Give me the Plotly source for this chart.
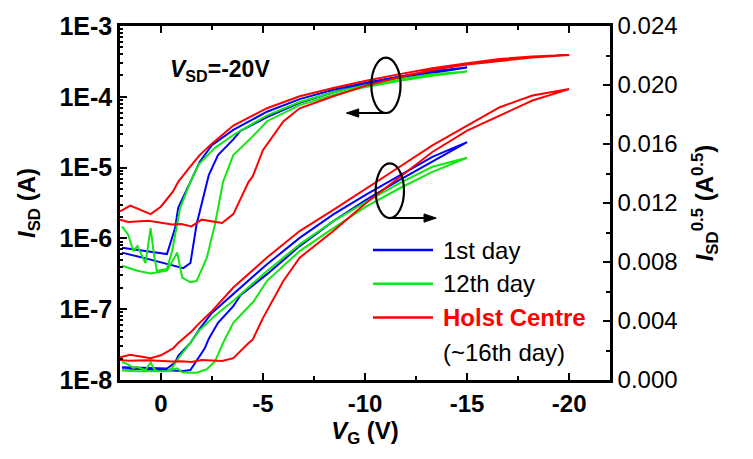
import numpy as np
import plotly.graph_objects as go
from plotly.subplots import make_subplots

# ---------------- data (V_G in volts, I_SD in amperes) ----------------
# each series is one sweep loop: forward branch then reverse branch
blue_v = [1.9, -0.3, -0.7, -0.85, -1.45, -1.9, -2.5, -3.55, -5.2, -6.8, -8.45, -10.05, -11.7, -13.3, -15.0,
          -13.3, -11.7, -10.05, -8.45, -6.8, -5.2, -3.9, -3.55, -2.8, -2.35, -2.15, -1.75, -1.45, -1.1, 0.6, 1.9]
blue_i = [7.4e-7, 6.0e-7, 1.4e-6, 2.7e-6, 6.3e-6, 1.2e-5, 2.07e-5, 3.4e-5, 6.16e-5, 9.28e-5, 1.26e-4, 1.58e-4, 1.93e-4, 2.29e-4, 2.60e-4,
          2.19e-4, 1.84e-4, 1.49e-4, 1.16e-4, 8.24e-5, 5.15e-5, 3.3e-5, 2.5e-5, 1.5e-5, 7.85e-6, 4.6e-6, 1.57e-6, 4.5e-7, 3.8e-7, 5.1e-7, 6.3e-7]

green_v = [1.9, 1.6, 1.35, 1.15, 1.0, 0.75, 0.5, 0.35, 0.2, -0.3, -0.55, -0.95, -1.45, -1.85, -2.65, -3.55, -5.2, -6.8, -8.45, -10.05, -11.7, -13.3, -15.0,
           -13.3, -11.7, -10.05, -8.45, -6.8, -5.2, -4.55, -3.55, -3.05, -2.65, -2.25, -1.75, -1.45, -1.05, -0.8, -0.3, 0.5, 1.15, 1.9]
green_i = [1.48e-6, 1.13e-6, 6.6e-7, 7.8e-7, 6.3e-7, 4.5e-7, 1.4e-6, 6.3e-7, 3.5e-7, 3.7e-7, 6.6e-7, 2.7e-6, 6.3e-6, 1.1e-5, 1.9e-5, 2.89e-5, 5.47e-5, 8.45e-5, 1.16e-4, 1.46e-4, 1.78e-4, 2.09e-4, 2.27e-4,
           1.99e-4, 1.69e-4, 1.38e-4, 1.06e-4, 7.64e-5, 4.52e-5, 2.85e-5, 1.5e-5, 6.3e-6, 1.57e-6, 5.3e-7, 2.5e-7, 2.4e-7, 2.8e-7, 6.3e-7, 3.5e-7, 3.2e-7, 3.5e-7, 4.1e-7]

red_v = [2.0, 1.5, 0.5, 0.0, -0.6, -0.85, -1.5, -1.9, -2.5, -3.55, -5.2, -6.8, -8.45, -10.05, -11.7, -13.3, -15.0, -16.6, -18.2, -20.0,
         -18.2, -16.6, -15.0, -13.3, -11.7, -10.05, -8.45, -6.8, -6.0, -5.0, -4.5, -4.3, -3.55, -3.0, -2.0, -1.5, -1.0, -0.55, 0.6, 1.6, 2.0]
red_i = [2.4e-6, 2.9e-6, 2.2e-6, 2.8e-6, 4.6e-6, 6.3e-6, 1.08e-5, 1.5e-5, 2.18e-5, 3.93e-5, 6.9e-5, 1.02e-4, 1.33e-4, 1.69e-4, 2.09e-4, 2.53e-4, 2.98e-4, 3.42e-4, 3.72e-4, 3.89e-4,
         3.59e-4, 3.21e-4, 2.86e-4, 2.39e-4, 1.90e-4, 1.44e-4, 1.02e-4, 6.87e-5, 4.5e-5, 1.76e-5, 7.5e-6, 6.3e-6, 2.2e-6, 1.65e-6, 1.84e-6, 1.48e-6, 1.6e-6, 1.57e-6, 1.78e-6, 1.7e-6, 1.84e-6]

series_names = ["1st day", "12th day", "Holst Centre"]
x_tick_vals = [0, -5, -10, -15, -20]
x_tick_text = ["0", "-5", "-10", "-15", "-20"]
y_tick_vals = [1e-8, 1e-7, 1e-6, 1e-5, 1e-4, 1e-3]
y_tick_text = ["1E-8", "1E-7", "1E-6", "1E-5", "1E-4", "1E-3"]
y2_tick_vals = [0.000, 0.004, 0.008, 0.012, 0.016, 0.020, 0.024]

BLUE = "#0000ff"
GREEN = "#14e614"
RED = "#ff0000"
FONT = "Arial, Liberation Sans, sans-serif"

fig = make_subplots(specs=[[{"secondary_y": True}]])

for v, i, col, name in [(blue_v, blue_i, BLUE, series_names[0]),
                        (green_v, green_i, GREEN, series_names[1]),
                        (red_v, red_i, RED, series_names[2])]:
    fig.add_trace(go.Scatter(x=v, y=i, mode="lines", name=name, showlegend=False,
                             line=dict(color=col, width=2)), secondary_y=False)
    fig.add_trace(go.Scatter(x=v, y=np.sqrt(np.array(i)), mode="lines", name=name + " (sqrt)",
                             showlegend=False, line=dict(color=col, width=2)), secondary_y=True)

W, H = 753, 459
ML, MR, MT, MB = 120, 143, 23, 79

axis_common = dict(showline=True, linecolor="black", linewidth=2.5, ticks="inside",
                   tickcolor="black", tickwidth=2, ticklen=7, showgrid=False, zeroline=False)

fig.update_xaxes(range=[2, -22], domain=[0, 1], tickvals=x_tick_vals, ticktext=x_tick_text, mirror="ticks",
                 tickfont=dict(family=FONT, size=24, color="black", weight="bold"),
                 minor=dict(ticks="inside", ticklen=4, tickwidth=2, tickcolor="black", dtick=2.5, tick0=0),
                 title=dict(text="<b><i>V</i><sub>G</sub> (V)</b>",
                            font=dict(family=FONT, size=24, color="black"), standoff=4),
                 **axis_common)

fig.update_yaxes(type="log", range=[-8, -3], tickvals=y_tick_vals, ticktext=y_tick_text,
                 tickfont=dict(family=FONT, size=25, color="black", weight="bold"),
                 minor=dict(ticks="inside", ticklen=3, tickwidth=1.5, tickcolor="black", dtick="D1"),
                 title=dict(text="<b><i>I</i><sub>SD</sub> (A)</b>",
                            font=dict(family=FONT, size=24, color="black"), standoff=18),
                 secondary_y=False, **axis_common)

fig.update_yaxes(range=[0, 0.024], tickvals=y2_tick_vals, tickformat=".3f",
                 tickfont=dict(family=FONT, size=24, color="black"),
                 minor=dict(ticks="inside", ticklen=4, tickwidth=2, tickcolor="black", dtick=0.002, tick0=0),
                 title=dict(text="<b><i>I</i><sub>SD</sub><sup>0.5</sup> (A<sup>0.5</sup>)</b>",
                            font=dict(family=FONT, size=24, color="black"), standoff=20),
                 secondary_y=True, **axis_common)

pw, ph = W - ML - MR, H - MT - MB


def px2paper(px, py):
    return (px - ML) / pw, (H - MB - py) / ph


shapes = []
annotations = []

# legend (drawn manually to match the reference layout)
leg_rows = [(249, BLUE, "1st day"), (283, GREEN, "12th day"), (317, RED, "<b>Holst Centre</b>")]
for py, col, txt in leg_rows:
    x0, yy = px2paper(373, py)
    x1, _ = px2paper(433, py)
    xt, _ = px2paper(441, py)
    shapes.append(dict(type="line", xref="paper", yref="paper", x0=x0, x1=x1, y0=yy, y1=yy,
                       line=dict(color=col, width=2.5)))
    annotations.append(dict(xref="paper", yref="paper", x=xt, y=yy, xanchor="left", yanchor="middle",
                            text=txt, showarrow=False,
                            font=dict(family=FONT, size=24, color=RED if col == RED else "black")))
xt, yy = px2paper(441, 352)
annotations.append(dict(xref="paper", yref="paper", x=xt, y=yy, xanchor="left", yanchor="middle",
                        text="(~16th day)", showarrow=False, font=dict(family=FONT, size=24, color="black")))

# V_SD label
xt, yy = px2paper(168, 68)
annotations.append(dict(xref="paper", yref="paper", x=xt, y=yy, xanchor="left", yanchor="middle",
                        text="<b><i>V</i><sub>SD</sub>=-20V</b>", showarrow=False,
                        font=dict(family=FONT, size=23, color="black")))

# ellipses marking which curves go with which axis, with arrows (drawn as shapes)
shapes.append(dict(type="circle", xref="x", yref="y2", x0=-10.31, x1=-11.74, y0=0.0181, y1=0.02185,
                   line=dict(color="black", width=2.2)))
shapes.append(dict(type="circle", xref="x", yref="y2", x0=-10.52, x1=-11.91, y0=0.01098, y1=0.01468,
                   line=dict(color="black", width=2.2)))

arrow_specs = [(-10.96, -9.09, 0.0181), (-11.2, -13.49, 0.01098)]  # (tail V, tip V, level)
head_len = 0.6      # in volts
head_half = 0.00028  # in A^0.5
for tail, tip, lev in arrow_specs:
    direction = 1 if tip > tail else -1
    base = tip - direction * head_len
    shapes.append(dict(type="line", xref="x", yref="y2", x0=tail, x1=base, y0=lev, y1=lev,
                       line=dict(color="black", width=2)))
    shapes.append(dict(type="path", xref="x", yref="y2",
                       path=f"M {tip},{lev} L {base},{lev + head_half} L {base},{lev - head_half} Z",
                       fillcolor="black", line=dict(color="black", width=1)))

fig.update_layout(width=W, height=H, autosize=False,
                  margin=dict(l=ML, r=MR, t=MT, b=MB, pad=0),
                  paper_bgcolor="white", plot_bgcolor="white",
                  font=dict(family=FONT, color="black"),
                  showlegend=False, shapes=shapes, annotations=annotations)

fig.write_html("out.html")
